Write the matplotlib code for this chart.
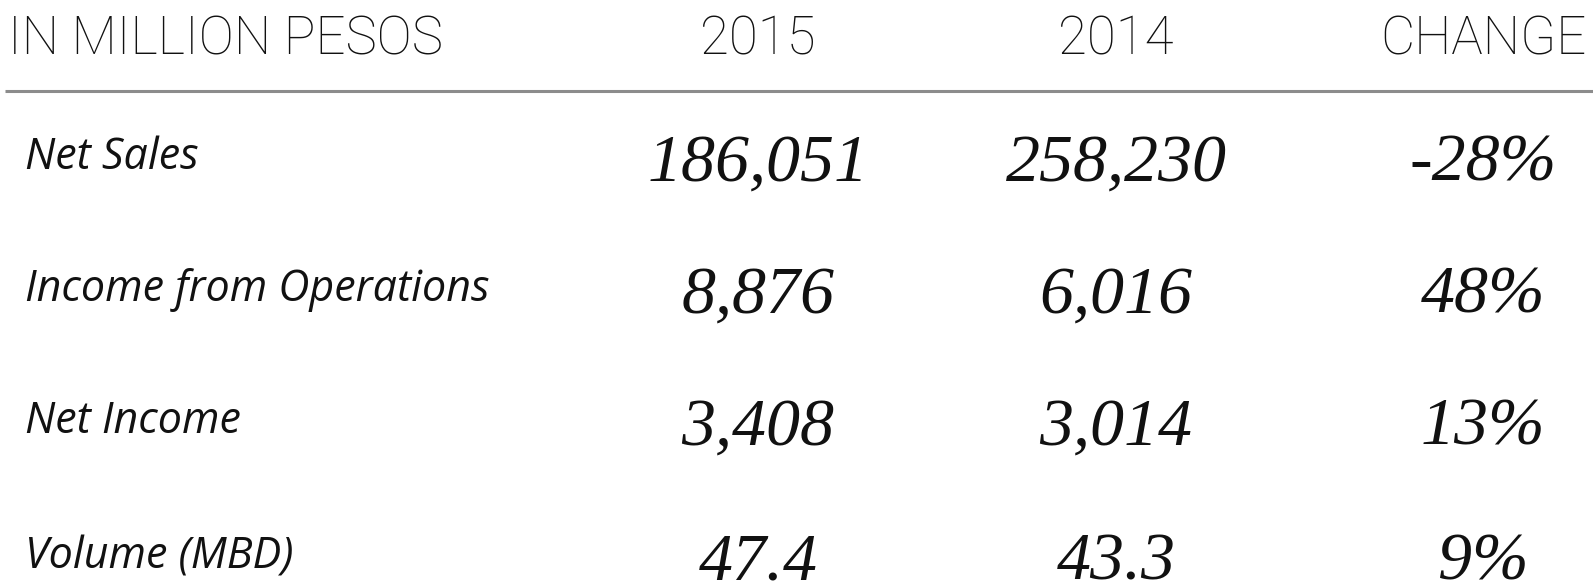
import matplotlib.pyplot as plt

# table content
header = ['IN MILLION PESOS', '2015', '2014', 'CHANGE']
rows = ['Net Sales', 'Income from Operations', 'Net Income', 'Volume (MBD)']
vals_2015 = ['186,051', '8,876', '3,408', '47.4']
vals_2014 = ['258,230', '6,016', '3,014', '43.3']
change = ['-28%', '48%', '13%', '9%']

W, H = 1593, 586
fig = plt.figure(figsize=(W / 100, H / 100), dpi=100)
ax = fig.add_axes([0, 0, 1, 1])
ax.set_xlim(0, W)
ax.set_ylim(H, 0)
ax.axis('off')

col_x = [758, 1116, 1483]
head_y = 40
row_y = [158, 290, 422, 557]

hfont = dict(family='Roboto', weight='light', fontsize=38, color='#111111', va='center')
ax.text(8, head_y, header[0], ha='left', **hfont)
for x, h in zip(col_x, header[1:]):
    ax.text(x, head_y, h, ha='center', **hfont)

ax.plot([5, W], [91, 91], color='#8c8c8c', lw=2.2, solid_capstyle='butt')

lfont = dict(family='Open Sans', style='italic', fontsize=31, color='#111111', va='center')
nfont = dict(family='Liberation Serif', style='italic', fontsize=49, color='#111111', va='center', ha='center')
for i, lab in enumerate(rows):
    y = row_y[i]
    ax.text(25, y, lab, ha='left', **lfont)
    ax.text(col_x[0], y + 6, vals_2015[i], **nfont)
    ax.text(col_x[1], y + 6, vals_2014[i], **nfont)
    ax.text(col_x[2], y + 6, change[i], **nfont)

fig.savefig('out.png', dpi=100)
